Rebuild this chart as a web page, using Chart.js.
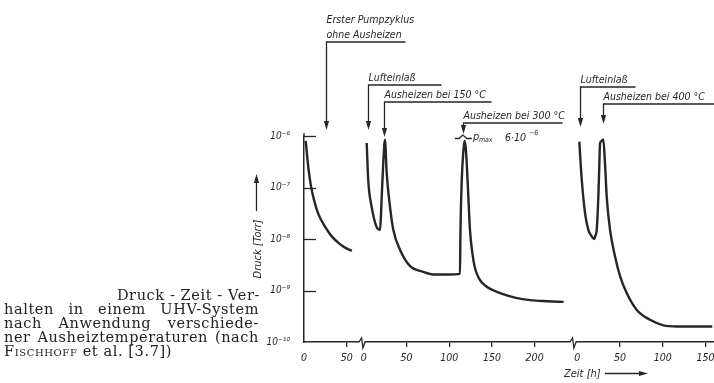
<!DOCTYPE html>
<html lang="de">
<head>
<meta charset="UTF-8">
<title>Druck-Zeit-Verhalten UHV-System</title>
<script src="https://cdn.jsdelivr.net/npm/chart.js@4.4.1/dist/chart.umd.min.js"></script>
<style>
  html, body { margin: 0; padding: 0; background: #fff; }
  #wrap { position: relative; width: 714px; height: 383px; overflow: hidden; }
  #chart { position: absolute; left: 0; top: 0; }
  #caption {
    position: absolute; left: 4px; top: 288px; width: 255px;
    font-family: "DejaVu Serif", "Liberation Serif", serif;
    font-size: 14.5px; line-height: 14px; letter-spacing: 0.6px; color: #222;
  }
  #caption div { white-space: nowrap; }
  #caption .r { text-align: right; margin-right: -1px; }
  #caption .j { text-align: justify; text-align-last: justify; }
  #caption .sc { font-variant: small-caps; }
</style>
</head>
<body>
<div id="wrap">
  <canvas id="chart" width="714" height="383"></canvas>
  <div id="caption">
    <div class="r">Druck - Zeit - Ver-</div>
    <div class="j">halten in einem UHV-System</div>
    <div class="j">nach Anwendung verschiede-</div>
    <div class="j">ner Ausheiztemperaturen (nach</div>
    <div><span class="sc">Fischhoff</span> et al. [3.7])</div>
  </div>
</div>
<script>
// Zeit [h] und Druck [Torr], je Abschnitt der Zeitachse
var seg1Zeit  = [2, 5, 8, 12, 17, 25, 32, 40, 48, 56];
var seg1Druck = [8e-7, 2.5e-7, 1.1e-7, 5.5e-8, 3e-8, 1.7e-8, 1.15e-8, 8.5e-9, 6.8e-9, 5.9e-9];

var seg2Zeit  = [3.4, 5.2, 9.2, 15, 17.5, 19, 20, 21, 22.8, 24.8, 26.8, 30.7, 34.6, 42.4, 54, 69.7, 81.4, 100, 112.6,
                 113.2, 114.7, 116.7, 118, 119.3, 120.5, 122.4, 124.3, 127, 130, 135, 142, 152, 163, 178, 195, 215, 234];
var seg2Druck = [7.3e-7, 1.4e-7, 4.2e-8, 1.7e-8, 1.55e-8, 1.5e-8, 2.6e-8, 6.6e-8, 3e-7, 8.5e-7, 1.9e-7, 4.2e-8, 1.5e-8, 6.2e-9, 3e-9, 2.3e-9, 2.05e-9, 2.05e-9, 2.1e-9,
                 1.5e-8, 1.4e-7, 5.4e-7, 8e-7, 6e-7, 3e-7, 6.6e-8, 1.5e-8, 5.5e-9, 2.8e-9, 1.7e-9, 1.25e-9, 1e-9, 8.5e-10, 7.2e-10, 6.5e-10, 6.2e-10, 6e-10];

var seg3Zeit  = [2.3, 5.2, 9, 12.9, 16.5, 19.6, 21.5, 22.7, 24.6, 25.8, 26.6, 28.3, 30.4, 32.4, 34.4, 38.3, 44.1, 50, 57.8, 69.6, 85.2, 100.7, 116.4, 135, 158];
var seg3Druck = [7.8e-7, 1.4e-7, 3.2e-8, 1.5e-8, 1.15e-8, 1e-8, 1.2e-8, 1.5e-8, 6.6e-8, 3e-7, 7.2e-7, 8e-7, 8.6e-7, 2.9e-7, 6.6e-8, 1.5e-8, 4.6e-9, 1.9e-9, 8.9e-10, 4.2e-10, 2.7e-10, 2.1e-10, 2e-10, 2e-10, 2e-10];

// Teilstriche je Abschnitt
var seg1Ticks = [0, 50];
var seg2Ticks = [0, 50, 100, 150, 200];
var seg3Ticks = [0, 50, 100, 150];
var yTicks = [1e-10, 1e-9, 1e-8, 1e-7, 1e-6];
var yTickLabels = ['10\u207B\u00B9\u2070', '10\u207B\u2079', '10\u207B\u2078', '10\u207B\u2077', '10\u207B\u2076'];

// Ereignisse (Abschnitt, Zeit im Abschnitt, Beschriftung)
var ereignisse = [
  { seg: 0, zeit: 26,   text: ['Erster Pumpzyklus', 'ohne Ausheizen'] },
  { seg: 1, zeit: 4.7,  text: ['Lufteinlaß'] },
  { seg: 1, zeit: 23.4, text: ['Ausheizen bei 150 °C'] },
  { seg: 1, zeit: 116,  text: ['Ausheizen bei 300 °C'] },
  { seg: 2, zeit: 3.2,  text: ['Lufteinlaß'] },
  { seg: 2, zeit: 30,   text: ['Ausheizen bei 400 °C'] }
];

// Lage der Abschnitte auf der durchgehenden Achse
var segOffset = [0, 70, 320];
var bruch = [68, 315];
var xMax = 480;

var ink = '#262626';
var fontFam = '"DejaVu Sans Condensed", "DejaVu Sans", sans-serif';

function punkte(zeit, druck, seg) {
  return zeit.map(function (t, i) { return { x: segOffset[seg] + t, y: druck[i] }; });
}

var xTickPos = [], xTickText = [];
[seg1Ticks, seg2Ticks, seg3Ticks].forEach(function (ticks, s) {
  ticks.forEach(function (t) { xTickPos.push(segOffset[s] + t); xTickText.push(String(t)); });
});

function kurve(data) {
  return { data: data, borderColor: ink, borderWidth: 2.4, pointRadius: 0,
           fill: false, cubicInterpolationMode: 'monotone' };
}

// Pfeile, Beschriftungen, Achsenbruch
var pfeilLayout = [
  { top: 42,  tip: 130, len: 79 },
  { top: 85,  tip: 130, len: 73 },
  { top: 102, tip: 137, len: 107 },
  { top: 123, tip: 134, len: 99 },
  { top: 87,  tip: 127, len: 55 },
  { top: 104, tip: 124, len: 120 }
];

function pfeilSpitze(ctx, px, tip, dir) {
  ctx.beginPath();
  if (dir === 'down') {
    ctx.moveTo(px - 2.6, tip - 9); ctx.lineTo(px + 2.6, tip - 9); ctx.lineTo(px, tip);
  } else if (dir === 'up') {
    ctx.moveTo(px - 2.6, tip + 9); ctx.lineTo(px + 2.6, tip + 9); ctx.lineTo(px, tip);
  } else {
    ctx.moveTo(tip - 9, px - 2.6); ctx.lineTo(tip - 9, px + 2.6); ctx.lineTo(tip, px);
  }
  ctx.closePath();
  ctx.fill();
}

var zeichnung = {
  id: 'zeichnung',
  afterDraw: function (chart) {
    var ctx = chart.ctx, a = chart.chartArea, x = chart.scales.x, y = chart.scales.y;
    ctx.save();
    ctx.strokeStyle = ink;
    ctx.fillStyle = ink;
    ctx.lineWidth = 1.3;

    // Teilstriche nach innen an der Druckachse
    yTicks.slice(1).forEach(function (v) {
      var py = Math.round(y.getPixelForValue(v)) + 0.5;
      ctx.beginPath(); ctx.moveTo(a.left, py); ctx.lineTo(a.left + 12, py); ctx.stroke();
    });
    ctx.beginPath(); ctx.moveTo(a.left, a.top); ctx.lineTo(a.left, a.top - 3); ctx.stroke();

    // Achsenbruch
    bruch.forEach(function (b) {
      var px = x.getPixelForValue(b), py = a.bottom;
      ctx.fillStyle = '#fff';
      ctx.fillRect(px - 2.5, py - 2, 5, 4);
      ctx.fillStyle = ink;
      ctx.beginPath();
      ctx.moveTo(px - 3, py);
      ctx.lineTo(px - 0.5, py - 4);
      ctx.lineTo(px + 0.8, py + 6);
      ctx.lineTo(px + 3, py);
      ctx.stroke();
    });

    // Ereignispfeile
    ctx.font = 'italic 10.5px ' + fontFam;
    ctx.textBaseline = 'alphabetic';
    ereignisse.forEach(function (e, i) {
      var L = pfeilLayout[i];
      var px = Math.round(x.getPixelForValue(segOffset[e.seg] + e.zeit)) + 0.5;
      ctx.beginPath();
      ctx.moveTo(px + L.len, L.top);
      ctx.lineTo(px, L.top);
      ctx.lineTo(px, L.tip - 8);
      ctx.stroke();
      pfeilSpitze(ctx, px, L.tip, 'down');
      var n = e.text.length;
      e.text.forEach(function (s, k) {
        ctx.fillText(s, px, L.top - 4 - (n - 1 - k) * 15);
      });
    });

    // Bruchzeichen an der Spitze (300 °C) und p_max
    var pm = x.getPixelForValue(segOffset[1] + 116);
    ctx.beginPath();
    ctx.moveTo(pm - 8, 138.5);
    ctx.lineTo(pm - 4, 138.5);
    ctx.lineTo(pm, 135);
    ctx.lineTo(pm + 4, 138.5);
    ctx.lineTo(pm + 9, 138.5);
    ctx.stroke();
    ctx.font = 'italic 11px ' + fontFam;
    ctx.fillText('p', pm + 10, 140);
    ctx.font = 'italic 7px ' + fontFam;
    ctx.fillText('max', pm + 16, 142);
    ctx.font = 'italic 10.5px ' + fontFam;
    ctx.fillText('6\u00B710', pm + 42, 141);
    ctx.font = 'italic 7px ' + fontFam;
    ctx.fillText('\u22126', pm + 66, 135);

    // Achsentitel
    ctx.font = 'italic 11px ' + fontFam;
    ctx.save();
    ctx.translate(261, 249);
    ctx.rotate(-Math.PI / 2);
    ctx.textAlign = 'center';
    ctx.fillText('Druck [Torr]', 0, 0);
    ctx.restore();
    ctx.beginPath(); ctx.moveTo(256.5, 211); ctx.lineTo(256.5, 182); ctx.stroke();
    pfeilSpitze(ctx, 256.5, 174, 'up');

    ctx.fillText('Zeit [h]', 564, 377);
    ctx.beginPath(); ctx.moveTo(605, 373.5); ctx.lineTo(640, 373.5); ctx.stroke();
    pfeilSpitze(ctx, 373.5, 648, 'right');

    ctx.restore();
  }
};

new Chart(document.getElementById('chart'), {
  type: 'line',
  data: {
    datasets: [
      kurve(punkte(seg1Zeit, seg1Druck, 0)),
      kurve(punkte(seg2Zeit, seg2Druck, 1)),
      kurve(punkte(seg3Zeit, seg3Druck, 2))
    ]
  },
  options: {
    responsive: false,
    animation: false,
    layout: { padding: { left: 250, top: 136, right: 0, bottom: 0 } },
    plugins: { legend: { display: false }, tooltip: { enabled: false } },
    scales: {
      x: {
        type: 'linear', min: 0, max: xMax,
        afterBuildTicks: function (s) { s.ticks = xTickPos.map(function (v) { return { value: v }; }); },
        afterFit: function (s) { s.height = 41; s.paddingLeft = 0; s.paddingRight = 0; },
        ticks: {
          autoSkip: false, maxRotation: 0, padding: 5, color: ink,
          font: { family: fontFam, size: 10.5, style: 'italic' },
          callback: function (v) { return xTickText[xTickPos.indexOf(v)]; }
        },
        grid: {
          drawOnChartArea: false, tickLength: 5, lineWidth: 1.3,
          color: function (c) { return c.tick && c.tick.label === '0' ? 'rgba(0,0,0,0)' : ink; }
        },
        border: { display: true, color: ink, width: 1.5 }
      },
      y: {
        type: 'logarithmic', min: 1e-10, max: 1e-6,
        afterBuildTicks: function (s) { s.ticks = yTicks.map(function (v) { return { value: v }; }); },
        afterFit: function (s) { s.width = 54; },
        ticks: {
          padding: 6, color: ink,
          font: { family: fontFam, size: 10, style: 'italic' },
          callback: function (v) { return yTickLabels[yTicks.indexOf(v)]; }
        },
        grid: { display: false },
        border: { display: true, color: ink, width: 1.5 }
      }
    }
  },
  plugins: [zeichnung]
});
</script>
</body>
</html>
